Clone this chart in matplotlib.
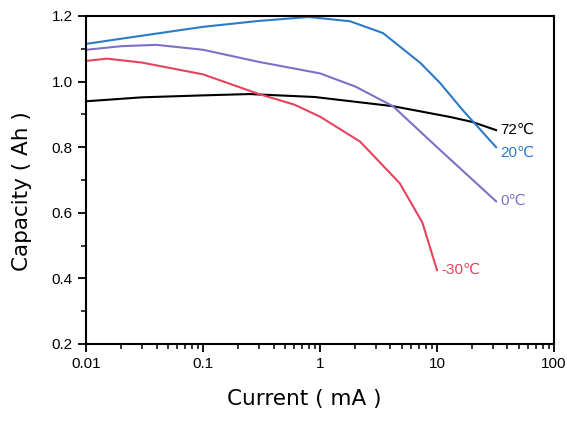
import matplotlib
matplotlib.use("Agg")
from matplotlib import pyplot as plt
from matplotlib.ticker import LogLocator, FixedLocator, MultipleLocator, NullFormatter

plt.rcParams['font.family'] = ['Liberation Sans', 'DejaVu Sans']

# current (mA) / capacity (Ah)
cur_72 = [0.01, 0.03, 0.1, 0.25, 0.9, 4.2, 13, 20, 32]
cap_72 = [0.94, 0.952, 0.958, 0.962, 0.953, 0.925, 0.892, 0.877, 0.852]

cur_20 = [0.01, 0.03, 0.1, 0.3, 0.8, 1.8, 3.45, 7.2, 10.6, 16.6, 32]
cap_20 = [1.115, 1.14, 1.167, 1.185, 1.197, 1.184, 1.148, 1.057, 0.996, 0.913, 0.8]

cur_0 = [0.01, 0.02, 0.04, 0.1, 0.3, 1.0, 2.0, 4.2, 10, 32]
cap_0 = [1.097, 1.108, 1.112, 1.097, 1.06, 1.025, 0.985, 0.925, 0.80, 0.635]

cur_m30 = [0.01, 0.015, 0.03, 0.1, 0.3, 0.6, 1.0, 2.2, 4.8, 7.5, 10]
cap_m30 = [1.063, 1.07, 1.058, 1.022, 0.962, 0.93, 0.893, 0.817, 0.69, 0.57, 0.425]

labels = ['72℃', '20℃', '0℃', '-30℃']
colors = ['black', '#2b7bc8', '#7b72c6', '#e5445c']
label_shift = [0, -4, 0, 0]   # points, keeps 72/20 labels apart

fig = plt.figure(figsize=(5.67, 4.21), dpi=100)
ax = fig.add_axes([0.152, 0.183, 0.825, 0.779])

curves = [(cur_72, cap_72), (cur_20, cap_20), (cur_0, cap_0), (cur_m30, cap_m30)]
for (x, y), lab, col, dy in zip(curves, labels, colors, label_shift):
    ax.plot(x, y, color=col, lw=1.5)
    ax.annotate(lab, (x[-1], y[-1]), xytext=(3, dy), textcoords='offset points',
                color=col, fontsize=11, ha='left', va='center')

ax.set_xscale('log')
ax.set_xlim(0.01, 100)
ax.set_ylim(0.2, 1.2)
ax.xaxis.set_major_locator(FixedLocator([0.01, 0.1, 1, 10, 100]))
ax.xaxis.set_minor_locator(LogLocator(base=10, subs=range(2, 10), numticks=20))
ax.xaxis.set_minor_formatter(NullFormatter())
ax.set_xticklabels(['0.01', '0.1', '1', '10', '100'])
ax.yaxis.set_minor_locator(MultipleLocator(0.1))
ax.set_yticks([0.2, 0.4, 0.6, 0.8, 1.0, 1.2])
ax.set_yticklabels(['0.2', '0.4', '0.6', '0.8', '1.0', '1.2'])

ax.tick_params(which='major', direction='out', length=6, width=1.3, labelsize=11)
ax.tick_params(which='minor', direction='out', length=3.5, width=1.1)
for s in ax.spines.values():
    s.set_linewidth(1.5)

# axis titles placed by hand, they sit a bit off-centre in the original
fig.text(0.536, 0.052, 'Current ( mA )', fontsize=15.5, family='DejaVu Sans',
         ha='center', va='center')
fig.text(0.039, 0.547, 'Capacity ( Ah )', fontsize=15.5, family='DejaVu Sans',
         rotation=90, ha='center', va='center')

fig.savefig('out.png', dpi=100)
